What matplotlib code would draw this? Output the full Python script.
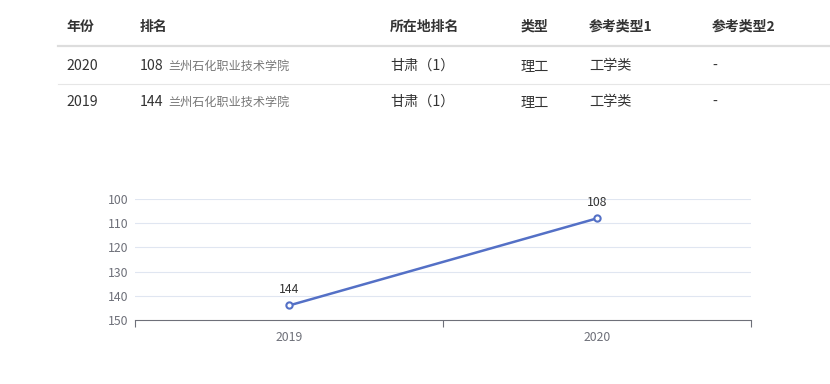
import matplotlib.pyplot as plt
from matplotlib.lines import Line2D

plt.rcParams['font.family'] = ['Noto Sans CJK SC', 'DejaVu Sans']

headers = ['年份', '排名', '所在地排名', '类型', '参考类型1', '参考类型2']
row_years = ['2020', '2019']
row_ranks = ['108', '144']
school = '兰州石化职业技术学院'
row_region = ['甘肃（1）', '甘肃（1）']
row_type = ['理工', '理工']
row_ref1 = ['工学类', '工学类']
row_ref2 = ['-', '-']

years = ['2019', '2020']
ranks = [144, 108]

W, H = 830, 384
fig = plt.figure(figsize=(W / 100, H / 100), dpi=100)


def fx(px):
    return px / W


def fy(py):
    return 1 - py / H


# table
col_x = [66, 140, 390, 521, 589, 712]
for x, h in zip(col_x, headers):
    fig.text(fx(x), fy(27), h, fontsize=10, fontweight='bold', color='#333333',
             ha='left', va='center')
fig.add_artist(Line2D([fx(58), fx(830)], [fy(46), fy(46)], color='#dddddd', lw=1.6))
fig.add_artist(Line2D([fx(58), fx(830)], [fy(84), fy(84)], color='#e6e6e6', lw=0.8))

row_y = [66, 102]
for i, y in enumerate(row_y):
    fig.text(fx(col_x[0]), fy(y), row_years[i], fontsize=10.2, color='#333333', ha='left', va='center')
    fig.text(fx(col_x[1]), fy(y), row_ranks[i], fontsize=10.2, color='#333333', ha='left', va='center')
    fig.text(fx(col_x[1] + 28), fy(y), school, fontsize=8.7, color='#777777', ha='left', va='center')
    fig.text(fx(col_x[2]), fy(y), row_region[i], fontsize=10.2, color='#333333', ha='left', va='center')
    fig.text(fx(col_x[3]), fy(y), row_type[i], fontsize=10.2, color='#333333', ha='left', va='center')
    fig.text(fx(col_x[4]), fy(y), row_ref1[i], fontsize=10.2, color='#333333', ha='left', va='center')
    fig.text(fx(col_x[5]), fy(y), row_ref2[i], fontsize=10.2, color='#333333', ha='left', va='center')

# chart
left, right, top, bottom = 135, 751, 199, 320
ax = fig.add_axes([fx(left), fy(bottom), fx(right - left), fy(top) - fy(bottom)])
xs = list(range(len(years)))
ax.plot(xs, ranks, color='#5470c6', lw=1.8, marker='o', markersize=4.5,
        markerfacecolor='white', markeredgecolor='#5470c6', markeredgewidth=1.5, zorder=3)
for x, r in zip(xs, ranks):
    ax.annotate(str(r), (x, r), xytext=(0, 7), textcoords='offset points',
                ha='center', va='bottom', fontsize=8.8, color='#333333')

ax.set_xlim(-0.5, len(years) - 0.5)
ax.set_ylim(150, 100)
ax.set_yticks([100, 110, 120, 130, 140, 150])
ax.set_xticks(xs)
ax.set_xticklabels(years)
ax.set_xticks([-0.5, 0.5, 1.5], minor=True)
ax.tick_params(axis='x', which='major', length=0, pad=8, labelsize=8.8, labelcolor='#6e7079')
ax.tick_params(axis='x', which='minor', length=5, color='#6e7079', width=0.8)
ax.tick_params(axis='y', length=0, pad=5, labelsize=8.8, labelcolor='#6e7079')
for yv in [100, 110, 120, 130, 140]:
    ax.axhline(yv, color='#e0e6f1', lw=0.8, zorder=1)
for s in ['top', 'right', 'left']:
    ax.spines[s].set_visible(False)
ax.spines['bottom'].set_color('#6e7079')
ax.spines['bottom'].set_linewidth(0.8)
ax.set_facecolor('none')

fig.savefig('out.png', dpi=100)
